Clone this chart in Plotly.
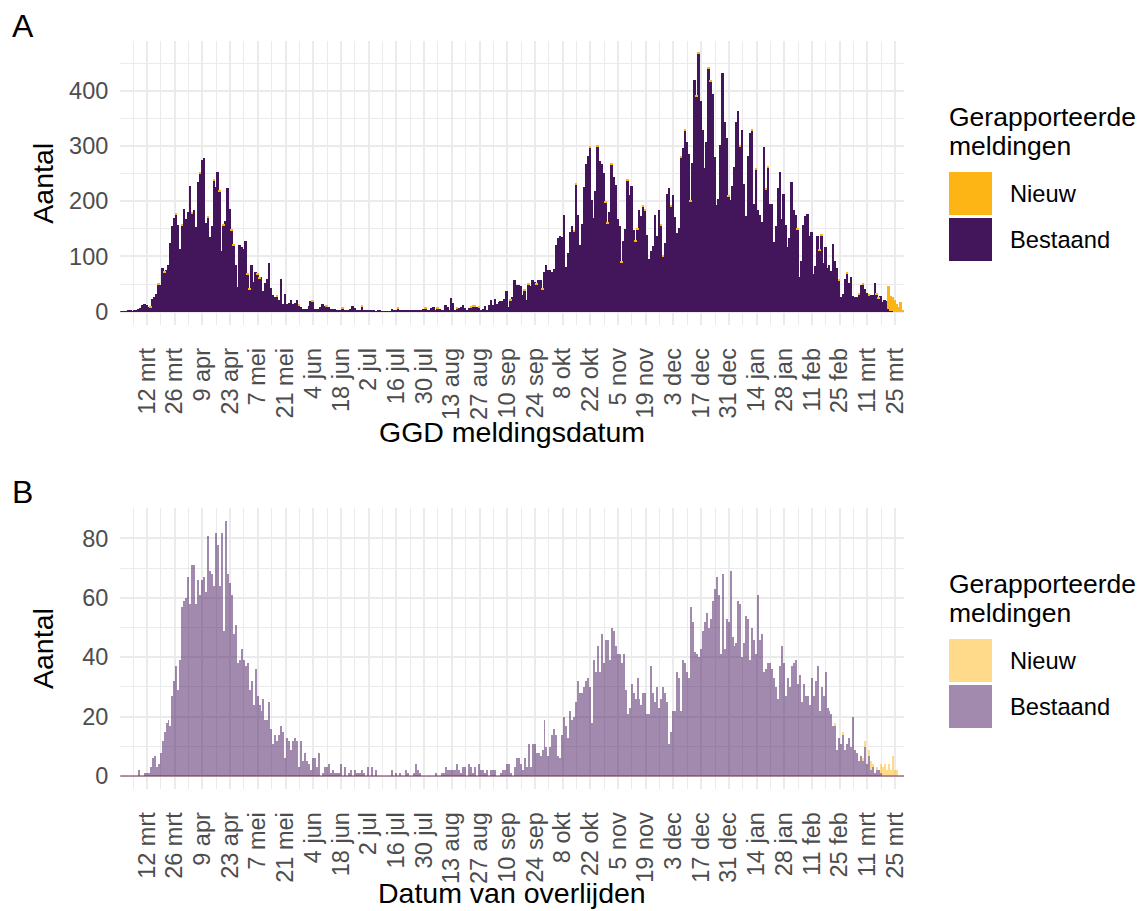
import pandas as pd
import plotly.graph_objects as go

# eerste dag in de grafiek, daarna 1 staaf per dag
start = '2020-02-28'

# A: GGD meldingsdatum (aantal per dag)
bestaand_a = [
    1, 1, 1, 1, 2, 2, 1, 4, 4, 6, 7, 13, 14, 13, 8, 8, 24, 27, 33, 50,
    49, 80, 71, 75, 84, 124, 155, 170, 177, 157, 114, 157, 186, 168, 180, 228, 178, 185, 153, 235,
    250, 275, 278, 161, 170, 135, 155, 237, 226, 253, 218, 110, 157, 165, 225, 186, 148, 120, 84, 45,
    122, 117, 113, 129, 68, 41, 84, 55, 73, 68, 61, 64, 38, 52, 60, 89, 43, 30, 27, 28,
    22, 59, 14, 33, 14, 16, 21, 15, 16, 21, 11, 8, 6, 5, 5, 11, 20, 18, 6, 6,
    6, 8, 14, 10, 10, 8, 6, 5, 6, 2, 4, 4, 7, 3, 3, 3, 5, 10, 7, 2,
    3, 2, 9, 2, 2, 3, 4, 2, 2, 1, 2, 2, 1, 1, 1, 1, 1, 6, 2, 2,
    6, 2, 2, 2, 3, 3, 3, 3, 2, 2, 2, 2, 2, 5, 7, 2, 4, 7, 9, 4,
    7, 5, 2, 2, 12, 8, 2, 25, 16, 4, 7, 7, 8, 12, 7, 3, 7, 8, 9, 9,
    9, 8, 4, 6, 11, 3, 13, 22, 13, 23, 15, 18, 20, 20, 24, 37, 8, 20, 27, 57,
    48, 48, 46, 30, 38, 21, 50, 47, 57, 55, 50, 57, 57, 40, 73, 84, 75, 75, 73, 77,
    122, 133, 138, 135, 176, 82, 106, 144, 156, 146, 231, 175, 121, 159, 226, 267, 282, 297, 203, 170,
    219, 300, 274, 267, 251, 198, 160, 180, 267, 245, 229, 169, 155, 90, 128, 150, 237, 212, 227, 148,
    128, 149, 184, 173, 190, 184, 139, 95, 110, 120, 175, 137, 185, 156, 100, 124, 213, 225, 191, 212,
    172, 143, 151, 279, 296, 329, 307, 286, 199, 269, 420, 389, 467, 382, 330, 260, 307, 440, 417, 395,
    281, 193, 205, 303, 433, 343, 314, 208, 202, 228, 263, 343, 363, 300, 329, 231, 173, 282, 323, 328,
    195, 257, 184, 175, 162, 298, 221, 262, 196, 196, 127, 155, 224, 253, 168, 213, 157, 117, 133, 236,
    184, 176, 150, 63, 93, 157, 173, 177, 137, 145, 68, 83, 137, 112, 138, 89, 118, 80, 84, 74,
    123, 93, 80, 57, 27, 33, 60, 70, 53, 63, 28, 27, 27, 31, 49, 50, 41, 35, 30, 30,
    30, 52, 31, 24, 28, 18, 22, 20, 5, 1, 1, 0, 0, 0, 0, 0,
]
nieuw_a = [
    0, 0, 0, 0, 0, 0, 0, 0, 0, 0, 0, 0, 0, 0, 0, 2, 0, 0, 0, 2,
    0, 0, 2, 0, 0, 0, 0, 0, 2, 0, 0, 2, 0, 0, 0, 0, 2, 0, 0, 0,
    2, 0, 0, 0, 2, 0, 0, 2, 0, 0, 2, 0, 2, 0, 0, 0, 2, 2, 0, 0,
    0, 0, 0, 0, 2, 2, 0, 0, 0, 2, 2, 0, 0, 0, 0, 0, 0, 0, 0, 2,
    0, 0, 0, 0, 0, 0, 0, 0, 0, 0, 2, 0, 0, 0, 0, 0, 0, 2, 0, 0,
    0, 0, 0, 0, 2, 0, 0, 0, 0, 0, 0, 0, 2, 0, 0, 0, 0, 0, 0, 0,
    0, 0, 2, 0, 0, 0, 0, 0, 0, 0, 0, 0, 0, 0, 0, 0, 0, 0, 0, 0,
    2, 0, 0, 0, 0, 0, 0, 0, 0, 0, 0, 0, 0, 0, 2, 0, 0, 0, 0, 0,
    2, 0, 0, 0, 0, 0, 0, 0, 0, 0, 2, 0, 0, 0, 0, 0, 0, 2, 2, 2,
    0, 2, 0, 0, 0, 0, 0, 0, 0, 0, 0, 0, 0, 0, 0, 0, 0, 2, 0, 0,
    0, 0, 0, 0, 2, 0, 2, 0, 0, 0, 2, 0, 0, 2, 0, 0, 0, 0, 0, 0,
    0, 0, 0, 0, 0, 0, 0, 0, 0, 2, 2, 0, 0, 0, 0, 0, 0, 2, 0, 0,
    0, 2, 0, 0, 0, 2, 2, 0, 2, 0, 0, 0, 0, 2, 0, 0, 2, 0, 0, 0,
    2, 2, 0, 0, 2, 2, 0, 0, 0, 0, 0, 0, 0, 2, 2, 0, 0, 0, 2, 0,
    0, 0, 0, 2, 0, 2, 0, 0, 2, 0, 0, 2, 2, 0, 0, 0, 0, 2, 2, 0,
    0, 0, 0, 0, 0, 0, 0, 2, 0, 0, 0, 0, 0, 2, 0, 0, 0, 0, 0, 2,
    0, 2, 0, 0, 0, 0, 2, 2, 0, 0, 0, 0, 0, 0, 0, 0, 0, 0, 0, 0,
    0, 0, 2, 0, 0, 0, 0, 0, 0, 0, 0, 0, 0, 2, 2, 0, 0, 0, 0, 0,
    0, 0, 0, 2, 0, 0, 0, 2, 0, 0, 0, 0, 0, 2, 0, 2, 0, 0, 2, 0,
    0, 0, 2, 2, 0, 0, 0, 0, 41, 28, 26, 21, 14, 8, 18, 3,
]

# B: datum van overlijden (aantal per dag)
bestaand_b = [
    0, 0, 0, 0, 0, 0, 0, 0, 0, 2, 0, 0, 1, 1, 1, 3, 6, 7, 3, 4,
    8, 12, 15, 18, 19, 17, 27, 32, 37, 29, 39, 57, 59, 60, 67, 58, 71, 71, 58, 66,
    61, 66, 67, 62, 81, 69, 68, 64, 82, 78, 64, 82, 49, 86, 68, 65, 61, 48, 51, 38,
    39, 43, 39, 37, 38, 29, 32, 24, 36, 27, 24, 22, 26, 19, 19, 25, 16, 11, 14, 12,
    14, 17, 15, 6, 13, 12, 9, 12, 13, 12, 3, 12, 5, 8, 5, 4, 2, 6, 6, 3,
    8, 0, 1, 3, 3, 4, 1, 2, 1, 1, 1, 4, 0, 3, 0, 1, 2, 0, 2, 1,
    1, 1, 2, 1, 0, 3, 0, 3, 0, 2, 0, 0, 0, 0, 0, 0, 0, 2, 0, 1,
    0, 1, 0, 0, 2, 1, 0, 0, 1, 4, 2, 1, 0, 0, 0, 0, 0, 0, 0, 1,
    0, 0, 1, 1, 3, 2, 2, 2, 2, 2, 4, 2, 1, 3, 3, 0, 4, 3, 1, 3,
    0, 4, 2, 2, 1, 2, 0, 2, 2, 2, 0, 0, 1, 2, 2, 4, 4, 1, 0, 3,
    6, 6, 4, 2, 6, 3, 11, 3, 11, 11, 8, 8, 7, 9, 19, 10, 7, 10, 14, 16,
    14, 7, 6, 14, 20, 17, 13, 22, 19, 20, 25, 32, 28, 28, 30, 32, 33, 30, 18, 39,
    35, 44, 35, 48, 38, 46, 46, 39, 50, 49, 44, 41, 41, 38, 41, 29, 21, 23, 31, 28,
    26, 33, 26, 24, 28, 28, 21, 21, 37, 28, 25, 30, 23, 26, 30, 28, 25, 11, 15, 22,
    22, 35, 33, 22, 39, 38, 35, 33, 57, 52, 42, 41, 40, 43, 49, 52, 55, 50, 53, 59,
    63, 67, 61, 41, 68, 43, 53, 52, 69, 47, 44, 45, 59, 58, 40, 45, 54, 53, 39, 50,
    46, 41, 61, 46, 48, 35, 36, 38, 38, 36, 33, 30, 26, 37, 44, 38, 27, 33, 30, 37,
    38, 39, 31, 34, 25, 31, 27, 27, 24, 33, 27, 32, 37, 22, 30, 27, 35, 23, 22, 21,
    17, 17, 9, 13, 11, 14, 9, 11, 13, 10, 20, 9, 8, 5, 7, 5, 10, 4, 7, 2,
    3, 1, 2, 2, 1, 0, 0, 0, 0, 0, 0, 0, 0, 0, 0, 0,
]
nieuw_b = [
    0, 0, 0, 0, 0, 0, 0, 0, 0, 0, 0, 0, 0, 0, 0, 0, 0, 0, 0, 0,
    0, 0, 0, 0, 0, 0, 0, 0, 0, 0, 0, 0, 0, 0, 0, 0, 0, 0, 0, 0,
    0, 0, 0, 0, 0, 0, 0, 0, 0, 0, 0, 0, 0, 0, 0, 0, 0, 0, 0, 0,
    0, 0, 0, 0, 0, 0, 0, 0, 0, 0, 0, 0, 0, 0, 0, 0, 0, 0, 0, 0,
    0, 0, 0, 0, 0, 0, 0, 0, 0, 0, 0, 0, 0, 0, 0, 0, 0, 0, 0, 0,
    0, 0, 0, 0, 0, 0, 0, 0, 0, 0, 0, 0, 0, 0, 0, 0, 0, 0, 0, 0,
    0, 0, 0, 0, 0, 0, 0, 0, 0, 0, 0, 0, 0, 0, 0, 0, 0, 0, 0, 0,
    0, 0, 0, 0, 0, 0, 0, 0, 0, 0, 0, 0, 0, 0, 0, 0, 0, 0, 0, 0,
    0, 0, 0, 0, 0, 0, 0, 0, 0, 0, 0, 0, 0, 0, 0, 0, 0, 0, 0, 0,
    0, 0, 0, 0, 0, 0, 0, 0, 0, 0, 0, 0, 0, 0, 0, 0, 0, 0, 0, 0,
    0, 0, 0, 0, 0, 0, 0, 0, 0, 0, 0, 0, 0, 0, 0, 0, 0, 0, 0, 0,
    0, 0, 0, 0, 0, 0, 0, 0, 0, 0, 0, 0, 0, 0, 0, 0, 0, 0, 0, 0,
    0, 0, 0, 0, 0, 0, 0, 0, 0, 0, 0, 0, 0, 0, 0, 0, 0, 0, 0, 0,
    0, 0, 0, 0, 0, 0, 0, 0, 0, 0, 0, 0, 0, 0, 0, 0, 0, 0, 0, 0,
    0, 0, 0, 0, 0, 0, 0, 0, 0, 0, 0, 0, 0, 0, 0, 0, 0, 0, 0, 0,
    0, 0, 0, 0, 0, 0, 0, 0, 0, 0, 0, 0, 0, 0, 0, 0, 0, 0, 0, 0,
    0, 0, 0, 0, 0, 0, 0, 0, 0, 0, 0, 0, 0, 0, 0, 0, 0, 0, 0, 0,
    0, 0, 0, 0, 0, 0, 0, 0, 0, 0, 0, 0, 0, 0, 0, 0, 0, 0, 0, 0,
    0, 1, 0, 0, 0, 1, 0, 0, 0, 0, 0, 0, 0, 0, 0, 1, 2, 0, 2, 3,
    1, 0, 1, 0, 3, 3, 4, 2, 4, 2, 7, 2, 2, 0, 0, 0,
]

tick_datums = ['2020-03-12', '2020-03-26', '2020-04-09', '2020-04-23', '2020-05-07', '2020-05-21',
               '2020-06-04', '2020-06-18', '2020-07-02', '2020-07-16', '2020-07-30', '2020-08-13',
               '2020-08-27', '2020-09-10', '2020-09-24', '2020-10-08', '2020-10-22', '2020-11-05',
               '2020-11-19', '2020-12-03', '2020-12-17', '2020-12-31', '2021-01-14', '2021-01-28',
               '2021-02-11', '2021-02-25', '2021-03-11', '2021-03-25']
tick_labels = ['12 mrt', '26 mrt', '9 apr', '23 apr', '7 mei', '21 mei', '4 jun', '18 jun', '2 jul',
               '16 jul', '30 jul', '13 aug', '27 aug', '10 sep', '24 sep', '8 okt', '22 okt', '5 nov',
               '19 nov', '3 dec', '17 dec', '31 dec', '14 jan', '28 jan', '11 feb', '25 feb',
               '11 mrt', '25 mrt']

dagen = pd.date_range(start, periods=len(bestaand_a), freq='D')
minor_x = [d.strftime('%Y-%m-%d') for d in pd.date_range('2020-03-05', dagen[-1], freq='14D')]
x_range = [dagen[0] - pd.Timedelta(hours=12), dagen[-1] + pd.Timedelta(hours=12)]

W, H = 1142, 911
FONT = 'Liberation Sans, Arial, sans-serif'
paars = '#43155B'
geel = '#FDB515'
paars_licht = 'rgba(67,21,91,0.5)'
geel_licht = 'rgba(253,181,21,0.5)'
grid = '#EBEBEB'
tick_font = dict(size=23.5, color='#4D4D4D', family=FONT)


def px(x):
    return x / W


def py(y):
    return 1 - y / H


fig = go.Figure()
fig.add_trace(go.Bar(x=dagen, y=bestaand_a, marker=dict(color=paars, line_width=0), xaxis='x', yaxis='y'))
fig.add_trace(go.Bar(x=dagen, y=nieuw_a, marker=dict(color=geel, line_width=0), xaxis='x', yaxis='y'))
fig.add_trace(go.Bar(x=dagen, y=bestaand_b, marker=dict(color=paars_licht, line_width=0), xaxis='x2', yaxis='y2'))
fig.add_trace(go.Bar(x=dagen, y=nieuw_b, marker=dict(color=geel_licht, line_width=0), xaxis='x2', yaxis='y2'))

x_dom = [px(120.3), px(904)]
xas = dict(domain=x_dom, type='date', range=x_range, tickmode='array', tickvals=tick_datums,
           ticktext=tick_labels, tickangle=-90, tickfont=tick_font,
           showgrid=True, gridcolor=grid, gridwidth=2, zeroline=False, showline=False,
           ticks='outside', ticklen=13, tickcolor='rgba(0,0,0,0)', automargin=False,
           minor=dict(tickvals=minor_x, showgrid=True, gridcolor=grid, gridwidth=1))
yas = dict(tickfont=tick_font, showgrid=True, gridcolor=grid,
           gridwidth=2, zeroline=False, showline=False, ticks='', ticklabelstandoff=11,
           automargin=False)

fig.update_layout(
    xaxis=dict(xas, anchor='y'),
    xaxis2=dict(xas, anchor='y2'),
    yaxis=dict(yas, domain=[py(324.6), py(40.8)], range=[-23.35, 490.35], tickvals=[0, 100, 200, 300, 400],
               minor=dict(tickvals=[50, 150, 250, 350, 450], showgrid=True, gridcolor=grid, gridwidth=1),
               anchor='x'),
    yaxis2=dict(yas, domain=[py(788.8), py(507.7)], range=[-4.3, 90.3], tickvals=[0, 20, 40, 60, 80],
                minor=dict(tickvals=[10, 30, 50, 70, 90], showgrid=True, gridcolor=grid, gridwidth=1),
                anchor='x2'),
    barmode='stack', bargap=0, showlegend=False,
    width=W, height=H, margin=dict(l=0, r=0, t=0, b=0),
    paper_bgcolor='white', plot_bgcolor='white', template='none',
    font=dict(family=FONT, color='black'),
)

# basislijn in paneel B
fig.add_shape(type='line', xref='paper', yref='y2', x0=x_dom[0], x1=x_dom[1], y0=0, y1=0,
              line=dict(color='#7A3050', width=1), layer='above')

annotaties = [
    ('A', 10, 26, 32, 0, 'left'),
    ('B', 10, 492, 32, 0, 'left'),
    ('Aantal', 43, 182.7, 28.5, -90, 'center'),
    ('Aantal', 43, 648, 28.5, -90, 'center'),
    ('GGD meldingsdatum', 512, 432, 28.5, 0, 'center'),
    ('Datum van overlijden', 512, 893, 28.5, 0, 'center'),
]
for tekst, x, y, size, hoek, anker in annotaties:
    fig.add_annotation(text=tekst, x=px(x), y=py(y), xref='paper', yref='paper', showarrow=False,
                       xanchor=anker, yanchor='middle', textangle=hoek,
                       font=dict(size=size, color='black', family=FONT))

# legenda's (handmatig, grote vlakken zoals in ggplot)
for dy, kleur_n, kleur_b in [(0, geel, paars), (467, geel_licht, paars_licht)]:
    fig.add_shape(type='rect', xref='paper', yref='paper', x0=px(949), x1=px(992),
                  y0=py(172 + dy), y1=py(215 + dy), fillcolor=kleur_n, line_width=0)
    fig.add_shape(type='rect', xref='paper', yref='paper', x0=px(949), x1=px(992),
                  y0=py(218 + dy), y1=py(261 + dy), fillcolor=kleur_b, line_width=0)
    for tekst, x, y, size in [('Gerapporteerde', 947, 117, 26.5), ('meldingen', 947, 146, 26.5),
                              ('Nieuw', 1008, 193.5, 23.7), ('Bestaand', 1008, 239.5, 23.7)]:
        fig.add_annotation(text=tekst, x=px(x), y=py(y + dy), xref='paper', yref='paper',
                           showarrow=False, xanchor='left', yanchor='middle',
                           font=dict(size=size, color='black', family=FONT))

# geen standaard 8px marge van de pagina rond de figuur
fig.write_html('out.html', config={'displayModeBar': False},
               post_script="document.body.style.margin='0';document.body.style.overflow='hidden';")
